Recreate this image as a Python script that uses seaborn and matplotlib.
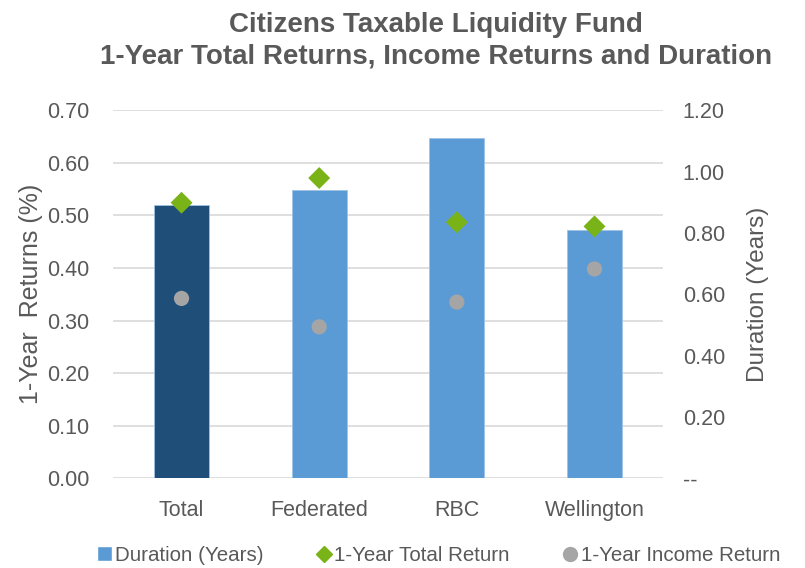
import matplotlib
matplotlib.use('Agg')
import matplotlib.pyplot as plt
import seaborn as sns
import pandas as pd
from matplotlib.lines import Line2D
from matplotlib.patches import Patch
from matplotlib.ticker import FuncFormatter

sns.set_style('white')
plt.rcParams['font.family'] = ['Liberation Sans', 'DejaVu Sans']

# data
managers = ['Total', 'Federated', 'RBC', 'Wellington']
duration = [0.89, 0.94, 1.11, 0.81]
total_return = [0.524, 0.571, 0.487, 0.479]
income_return = [0.342, 0.288, 0.335, 0.398]

df = pd.DataFrame({'Manager': managers, 'Duration': duration,
                   'Total': total_return, 'Income': income_return})

txt = '#595959'
bar_colors = ['#1F4E79', '#5B9BD5', '#5B9BD5', '#5B9BD5']
green = '#7AB317'
grey = '#A5A5A5'

fig, ax = plt.subplots(figsize=(8.05, 5.68), dpi=100)
fig.subplots_adjust(left=0.140, right=0.824, top=0.806, bottom=0.158)

# bottom axis: returns scale, gridlines only
ax.set_ylim(0, 0.7)
ax.set_yticks([i / 10 for i in range(8)])
ax.yaxis.set_major_formatter(FuncFormatter(lambda v, p: f'{v:.2f}'))
ax.grid(axis='y', color='#D9D9D9', linewidth=1.2)
ax.set_axisbelow(True)

# duration bars on right axis
ax2 = ax.twinx()
sns.barplot(data=df, x='Manager', y='Duration', hue='Manager', palette=bar_colors,
            saturation=1, width=0.4, legend=False, ax=ax2,
            edgecolor='#9DC3E6', linewidth=0.6)
ax2.set_ylim(0, 1.2)
ax2.set_yticks([0, 0.2, 0.4, 0.6, 0.8, 1.0, 1.2])
ax2.yaxis.set_major_formatter(FuncFormatter(lambda v, p: '--' if v == 0 else f'{v:.2f}'))
ax2.set_xlim(-0.5, 3.5)

# points on top, returns scale
ax3 = ax.twinx()
sns.scatterplot(data=df, x='Manager', y='Total', marker='D', s=125, color=green,
                edgecolor='none', ax=ax3, zorder=3)
sns.scatterplot(data=df, x='Manager', y='Income', marker='o', s=120, color=grey,
                edgecolor='none', ax=ax3, zorder=3)
ax3.set_ylim(0, 0.7)
ax3.set_xlim(-0.5, 3.5)
ax3.set_yticks([])
ax3.set_ylabel('')

for a in (ax, ax2, ax3):
    for s in a.spines.values():
        s.set_visible(False)
    a.set_xlabel('')

ax.tick_params(axis='y', colors=txt, labelsize=15.5, length=0, pad=17)
ax.tick_params(axis='x', colors=txt, labelsize=15.5, length=0, pad=16)
ax2.tick_params(axis='y', colors=txt, labelsize=15.5, length=0, pad=14)
ax2.tick_params(axis='x', length=0)

ax.set_ylabel('1-Year  Returns (%)', color=txt, fontsize=18, labelpad=3)
ax2.set_ylabel('Duration (Years)', color=txt, fontsize=17.5, labelpad=16)

fig.suptitle('Citizens Taxable Liquidity Fund\n1-Year Total Returns, Income Returns and Duration',
             fontsize=20, fontweight='bold', color=txt, x=0.542, y=0.978, linespacing=1.25)

handles = [
    Patch(facecolor='#5B9BD5', label='Duration (Years)'),
    Line2D([], [], marker='D', color=green, linestyle='none', markersize=8, label='1-Year Total Return'),
    Line2D([], [], marker='o', color=grey, linestyle='none', markersize=10, label='1-Year Income Return'),
]
fig.legend(handles=handles, loc='lower center', bbox_to_anchor=(0.545, -0.027), ncol=3,
           frameon=False, fontsize=14.8, labelcolor=txt, handlelength=0.7, handletextpad=0.15,
           columnspacing=2.6)

fig.savefig('out.png', dpi=100)
